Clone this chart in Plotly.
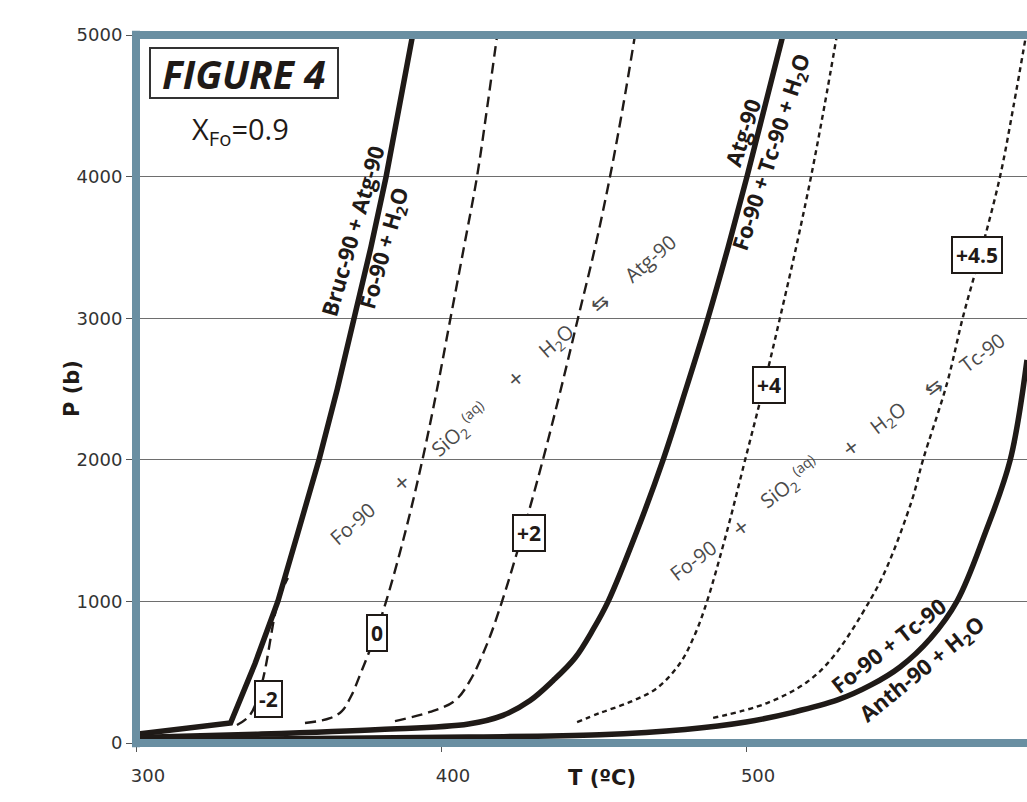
import plotly.graph_objects as go

# ---- Phase boundaries, T (degC) vs P (bar) ----
bruc_atg_T = [300, 310, 320, 331, 339, 346.5, 353, 360, 366, 371.5, 377, 382, 386.5, 390.7]
bruc_atg_P = [62, 85, 110, 141, 560, 1000, 1480, 2000, 2500, 3000, 3500, 4000, 4500, 5000]

atg_T = [300, 340, 380, 409, 420.3, 429.2, 436.7, 443.9, 449.8, 454.8, 464.3, 472.8, 480.3, 487.5, 494.1, 500.3, 506.2, 512.1]
atg_P = [38, 62, 95, 134, 195, 300, 440, 600, 800, 1000, 1500, 2000, 2500, 3000, 3500, 4000, 4500, 5000]

anth_T = [300, 350, 409, 452, 480, 500, 515, 530, 541, 550.5, 560.5, 569.2, 578.4, 586.6, 592.1]
anth_P = [22, 30, 42, 58, 95, 148, 215, 304, 410, 537, 740, 1003, 1483, 1999, 2705]

# ---- Silica-activity contours (log aSiO2) ----
m2_T = [333.1, 337.4, 341.3, 346.6, 349.8]
m2_P = [127, 198, 424, 1003, 1165]

z0_T = [355.4, 363.6, 367.5, 370.5, 373.8, 377.4, 382.0, 388.4, 393.9, 398.7, 403.1, 407.5, 411.8, 415.2, 418.4]
z0_P = [141, 175, 225, 330, 500, 700, 1000, 1500, 2000, 2500, 3000, 3500, 4000, 4500, 5000]

p2_T = [384.9, 396.4, 404.6, 409.5, 415.1, 420.0, 427.0, 433.4, 439.3, 444.9, 450.5, 455.4, 459.7, 463.6]
p2_P = [155, 219, 300, 440, 700, 1000, 1500, 2000, 2500, 3000, 3500, 4000, 4500, 5000]

p4_T = [444.6, 452.1, 462.0, 470.8, 478.4, 483.3, 487.2, 493.8, 499.7, 505.6, 511.1, 516.4, 521.3, 525.7, 529.8]
p4_P = [148, 212, 290, 388, 565, 770, 1000, 1500, 2000, 2500, 3000, 3500, 4000, 4500, 5000]

p45_T = [489.2, 506.9, 520.0, 528.5, 540.7, 546.2, 554.4, 558.0, 565.9, 571.1, 577.4, 583.3, 587.7, 591.8]
p45_P = [177, 282, 431, 607, 1010, 1243, 1716, 1999, 2542, 3008, 3500, 4004, 4500, 5000]

x_ticks = [300, 400, 500]
y_ticks = [0, 1000, 2000, 3000, 4000, 5000]

# contour tags: text, T, P
contour_tags = ["-2", "0", "+2", "+4", "+4.5"]
contour_tag_T = [343.6, 379.0, 429.0, 507.5, 575.6]
contour_tag_P = [314, 780, 1480, 2528, 3443]

INK = "#1f1a17"
FRAME = "#6a8fa2"
LBL_FONT = "Open Sans"

fig = go.Figure()

def add_curve(T, P, width, dash="solid", shape="linear"):
    fig.add_trace(go.Scatter(
        x=T, y=P, mode="lines",
        line=dict(color=INK, width=width, dash=dash, shape=shape, smoothing=1.0),
        hoverinfo="skip", showlegend=False,
    ))

add_curve(bruc_atg_T, bruc_atg_P, 5.5)
add_curve(atg_T, atg_P, 5.5, shape="spline")
add_curve(anth_T, anth_P, 5.5, shape="spline")
add_curve(m2_T, m2_P, 2.4, dash="11px,6px", shape="spline")
add_curve(z0_T, z0_P, 2.4, dash="11px,6px", shape="spline")
add_curve(p2_T, p2_P, 2.4, dash="11px,6px", shape="spline")
add_curve(p4_T, p4_P, 2.4, dash="5px,4px", shape="spline")
add_curve(p45_T, p45_P, 2.4, dash="5px,4px", shape="spline")

ann = []

# boxed contour tags
for txt, t, p in zip(contour_tags, contour_tag_T, contour_tag_P):
    ann.append(dict(x=t, y=p, xref="x", yref="y", text="<b>%s</b>" % txt, showarrow=False,
                    font=dict(family=LBL_FONT, size=21, color=INK),
                    bgcolor="white", bordercolor=INK, borderwidth=2, borderpad=3))

# reaction labels along the solid boundaries
bold_labels = [
    ("Bruc-90 + Atg-90", 370.8, 3616, -74),
    ("Fo-90 + H<sub>2</sub>O", 381.6, 3496, -74),
    ("Atg-90", 498.7, 4308, -72),
    ("Fo-90 + Tc-90 + H<sub>2</sub>O", 508.5, 4174, -72),
    ("Fo-90 + Tc-90", 546.6, 692, -38),
    ("Anth-90 + H<sub>2</sub>O", 557.7, 516, -39),
]
for txt, t, p, ang in bold_labels:
    ann.append(dict(x=t, y=p, xref="x", yref="y", text="<b>%s</b>" % txt, showarrow=False,
                    textangle=ang, font=dict(family=LBL_FONT, size=22, color=INK)))

# aqueous-silica reactions written diagonally across the field
rx_sio2 = "SiO<sub>2</sub><sup> (aq)</sup>"
rx_h2o = "H<sub>2</sub>O"
reaction_atg = [("Fo-90", 371.1, 1547), ("+", 386.9, 1843), (rx_sio2, 406.2, 2210),
                ("+", 424.3, 2578), (rx_h2o, 438.0, 2832), ("\u21c6", 452.1, 3114),
                ("Atg-90", 468.5, 3425)]
reaction_tc = [("Fo-90", 482.6, 1292), ("+", 498.0, 1525), (rx_sio2, 514.4, 1836),
               ("+", 534.1, 2090), (rx_h2o, 546.6, 2295), ("\u21c6", 561.3, 2514),
               ("Tc-90", 577.4, 2761)]
for items, ang in ((reaction_atg, -41), (reaction_tc, -37)):
    for txt, t, p in items:
        size = 25 if txt == "+" else 20
        ann.append(dict(x=t, y=p, xref="x", yref="y", text=txt, showarrow=False,
                        textangle=ang,
                        font=dict(family=LBL_FONT, size=size, color="#4a4a4a")))

# figure tag and composition
ann.append(dict(x=335.4, y=4732, xref="x", yref="y", text="<b><i>FIGURE 4</i></b>",
                showarrow=False, font=dict(family=LBL_FONT, size=39, color=INK),
                width=184, height=46,
                bgcolor="white", bordercolor="#333333", borderwidth=2, borderpad=1))
ann.append(dict(x=334.1, y=4329, xref="x", yref="y", text="X<sub>Fo</sub>=0.9",
                showarrow=False, font=dict(family=LBL_FONT, size=29, color=INK)))

# axis titles
ann.append(dict(x=0.523, y=-0.049, xref="paper", yref="paper", text="<b>T (\u00baC)</b>",
                xanchor="center", yanchor="middle",
                showarrow=False, font=dict(family="DejaVu Sans", size=21, color=INK)))
ann.append(dict(x=-0.0718, y=0.5, xref="paper", yref="paper", text="<b>P (b)</b>",
                xanchor="center", yanchor="middle",
                showarrow=False, textangle=-90,
                font=dict(family="DejaVu Sans", size=21, color=INK)))

# frame: left, top and bottom rails
shapes = [
    dict(type="line", xref="paper", yref="paper", x0=0, x1=0, y0=-0.006, y1=1.006,
         line=dict(color=FRAME, width=8), layer="above"),
    dict(type="line", xref="paper", yref="paper", x0=-0.0045, x1=1, y0=1, y1=1,
         line=dict(color=FRAME, width=8), layer="above"),
    dict(type="line", xref="paper", yref="paper", x0=-0.0045, x1=1, y0=0, y1=0,
         line=dict(color=FRAME, width=8), layer="above"),
]

fig.update_layout(
    width=1027, height=802,
    margin=dict(l=136, r=0, t=35, b=59),
    paper_bgcolor="white", plot_bgcolor="white",
    showlegend=False,
    annotations=ann, shapes=shapes,
    xaxis=dict(range=[300, 592.1], tickvals=x_ticks, ticktext=[str(v) for v in x_ticks],
               showgrid=False, zeroline=False, showline=False,
               ticks="outside", ticklen=8, tickcolor="#555555", tickwidth=1,
               tickfont=dict(family="DejaVu Sans", size=18, color="#333333"),
               ticklabelshift=12, ticklabelstandoff=8),
    yaxis=dict(range=[0, 5000], tickvals=y_ticks, ticktext=[str(v) for v in y_ticks],
               showgrid=True, gridcolor="#6e6e6e", gridwidth=1,
               zeroline=False, showline=False,
               ticks="outside", ticklen=9, tickcolor="#555555", tickwidth=1,
               tickfont=dict(family="DejaVu Sans", size=18, color="#333333")),
)

fig.write_html("out.html")
